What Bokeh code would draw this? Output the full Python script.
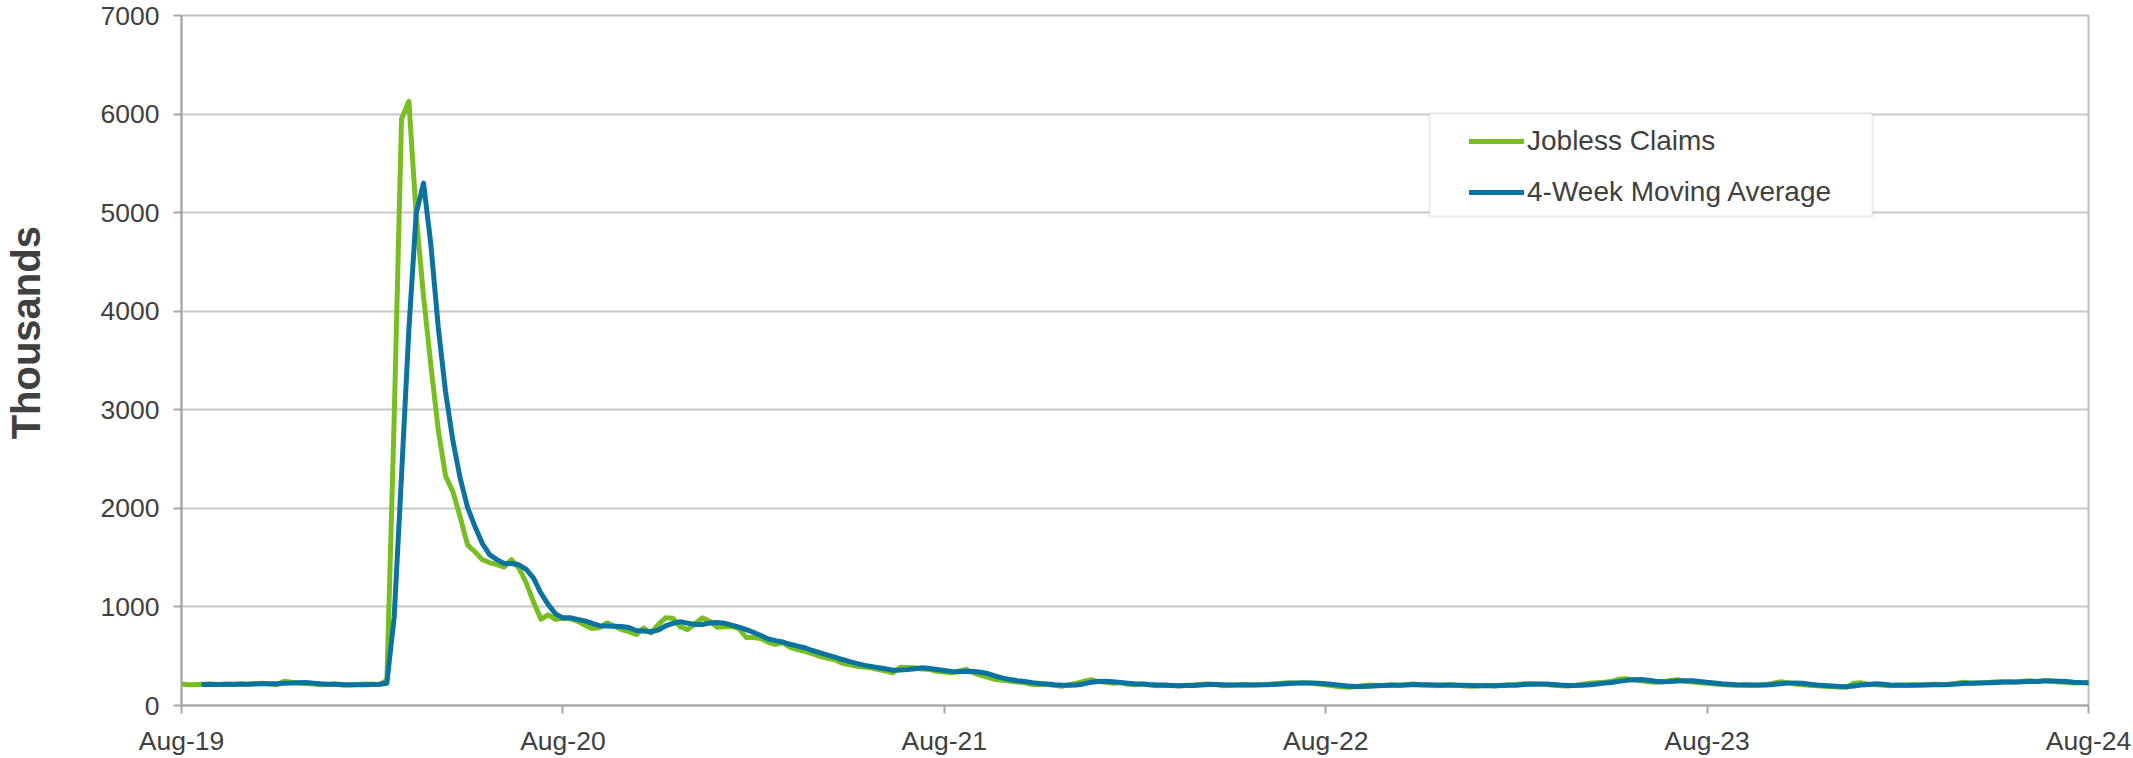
import datetime as dt
from bokeh.plotting import figure
from bokeh.models import (Range1d, FixedTicker, DatetimeTickFormatter, Legend, LegendItem,
                          BoxAnnotation, ColumnDataSource)
from bokeh.embed import file_html
from bokeh.resources import INLINE

# ---------------- data (thousands, weekly, first week ending Aug 31 2019) ----------------
start_week = dt.datetime(2019, 8, 31)

jobless_claims = [
    218, 210, 212, 215, 218, 212, 216, 214, 220, 215,
    224, 226, 218, 210, 245, 235, 228, 222, 218, 210,
    213, 218, 206, 208, 212, 218, 216, 212, 256, 2920,
    5950, 6130, 4970, 4150, 3450, 2800, 2330, 2170, 1910, 1630,
    1560, 1480, 1450, 1430, 1405, 1480, 1395, 1245, 1050, 875,
    920, 875, 885, 880, 855, 815, 780, 790, 838, 805,
    770, 750, 720, 785, 736, 820, 890, 885, 800, 770,
    830, 889, 855, 795, 800, 804, 780, 690, 690, 680,
    640, 620, 635, 590, 568, 550, 525, 500, 480, 466,
    430, 416, 399, 390, 382, 365, 350, 331, 389, 385,
    382, 370, 365, 348, 340, 331, 350, 365, 330, 307,
    285, 264, 255, 247, 238, 230, 213, 213, 213, 205,
    196, 210, 225, 245, 262, 245, 235, 225, 232, 215,
    210, 218, 208, 200, 205, 202, 198, 205, 208, 215,
    218, 212, 200, 205, 210, 212, 208, 210, 214, 220,
    226, 232, 228, 230, 225, 218, 210, 200, 190, 186,
    190, 200, 208, 202, 205, 210, 206, 212, 218, 208,
    205, 200, 208, 212, 205, 198, 195, 200, 205, 198,
    205, 210, 212, 220, 222, 215, 212, 205, 200, 198,
    205, 215, 225, 232, 235, 245, 268, 272, 260, 250,
    242, 235, 240, 255, 262, 245, 238, 230, 225, 218,
    212, 208, 205, 210, 206, 205, 212, 225, 240, 232,
    218, 210, 205, 200, 196, 192, 188, 185, 225, 230,
    215, 210, 205, 200, 208, 205, 210, 206, 212, 215,
    212, 215, 225, 235, 225, 228, 232, 238, 242, 240,
    235, 245, 250, 242, 255, 245, 238, 235, 228, 232,
    230,
]

# 4-week moving average, starting with the 4th week
moving_avg_4wk = [
    214, 214, 214, 215, 215, 216, 216, 218, 221, 221,
    220, 225, 227, 230, 233, 226, 220, 216, 215, 212,
    211, 211, 211, 214, 215, 226, 901, 2335, 3814, 4992,
    5300, 4675, 3843, 3183, 2688, 2303, 2010, 1818, 1645, 1530,
    1480, 1441, 1441, 1428, 1381, 1293, 1141, 1023, 930, 889,
    890, 874, 859, 833, 810, 806, 803, 801, 791, 761,
    756, 748, 765, 808, 833, 849, 836, 821, 822, 836,
    842, 835, 814, 795, 769, 741, 710, 675, 658, 644,
    621, 603, 586, 558, 536, 514, 493, 469, 448, 428,
    409, 397, 384, 372, 357, 359, 364, 372, 382, 376,
    366, 356, 346, 342, 347, 344, 338, 322, 297, 278,
    263, 251, 243, 232, 224, 217, 211, 207, 206, 209,
    219, 236, 244, 247, 242, 234, 227, 221, 219, 213,
    209, 208, 204, 201, 203, 203, 207, 212, 213, 211,
    209, 207, 207, 209, 210, 211, 213, 218, 223, 227,
    229, 229, 225, 221, 213, 205, 197, 192, 192, 196,
    200, 204, 206, 206, 208, 212, 211, 211, 208, 205,
    206, 206, 206, 203, 200, 200, 200, 202, 205, 206,
    212, 216, 217, 217, 214, 208, 204, 202, 205, 211,
    219, 227, 234, 245, 255, 261, 263, 256, 247, 242,
    243, 248, 251, 250, 244, 235, 228, 221, 216, 211,
    209, 207, 207, 208, 212, 221, 227, 229, 225, 216,
    208, 203, 198, 194, 190, 198, 207, 214, 220, 215,
    208, 206, 205, 206, 207, 208, 211, 211, 214, 217,
    222, 225, 228, 230, 231, 235, 238, 239, 241, 243,
    243, 248, 248, 245, 243, 237, 233, 231,
]

series_names = ["Jobless Claims", "4-Week Moving Average"]
x_tick_week_index = [0, 52, 104, 156, 208, 260]   # labelled Aug-19 ... Aug-24
y_ticks = [0, 1000, 2000, 3000, 4000, 5000, 6000, 7000]
y_title = "Thousands"

# ---------------- build ----------------
weeks = [start_week + dt.timedelta(weeks=i) for i in range(len(jobless_claims))]
ma_weeks = weeks[len(jobless_claims) - len(moving_avg_4wk):]
epoch = dt.datetime(1970, 1, 1)
tick_ms = [(weeks[i] - epoch).total_seconds() * 1000.0 for i in x_tick_week_index]

src_claims = ColumnDataSource(dict(x=weeks, y=jobless_claims))
src_ma = ColumnDataSource(dict(x=ma_weeks, y=moving_avg_4wk))

GREEN = "#78BE20"
BLUE = "#0A73A0"
TEXT = "#404040"
FONT = "Liberation Sans"

p = figure(width=2133, height=758, x_axis_type="datetime",
           x_range=Range1d(weeks[0], weeks[-1]), y_range=Range1d(0, 7000),
           output_backend="svg", toolbar_location=None,
           min_border_left=180, min_border_right=45, min_border_top=15, min_border_bottom=51)

p.background_fill_color = "white"
p.border_fill_color = "white"
p.outline_line_color = "#BFBFBF"
p.outline_line_width = 2

p.xgrid.grid_line_color = None
p.ygrid.grid_line_color = "#C8C8C8"
p.ygrid.grid_line_width = 2

# axes
p.xaxis.ticker = FixedTicker(ticks=tick_ms)
fmt = "%b-%y"
p.xaxis.formatter = DatetimeTickFormatter(microseconds=fmt, milliseconds=fmt, seconds=fmt,
                                          minsec=fmt, minutes=fmt, hourmin=fmt, hours=fmt,
                                          days=fmt, months=fmt, years=fmt)
p.yaxis.ticker = FixedTicker(ticks=y_ticks)
for ax in (p.xaxis[0], p.yaxis[0]):
    ax.axis_line_color = "#A6A6A6"
    ax.axis_line_width = 2
    ax.major_tick_line_color = "#A6A6A6"
    ax.major_tick_line_width = 2
    ax.major_tick_out = 8
    ax.major_tick_in = 0
    ax.minor_tick_line_color = None
    ax.major_label_text_font = FONT
    ax.major_label_text_font_size = "26.5px"
    ax.major_label_text_color = TEXT
p.xaxis.major_label_standoff = 12
p.yaxis.major_label_standoff = 14

# y title (leading no-break spaces lift the word above the frame centre, as in the reference)
p.yaxis.axis_label = "\u00a0\u00a0\u00a0\u00a0\u00a0" + y_title
p.yaxis.axis_label_text_font = FONT
p.yaxis.axis_label_text_font_size = "40px"
p.yaxis.axis_label_text_font_style = "bold"
p.yaxis.axis_label_text_color = TEXT
p.yaxis.axis_label_standoff = 50

r_claims = p.line("x", "y", source=src_claims, line_color=GREEN, line_width=5,
                  line_join="round", line_cap="round")
r_ma = p.line("x", "y", source=src_ma, line_color=BLUE, line_width=5,
              line_join="round", line_cap="round")

# legend frame
p.add_layout(BoxAnnotation(left=1248, right=1691, bottom=489, top=592,
                           left_units="screen", right_units="screen",
                           bottom_units="screen", top_units="screen",
                           fill_color="white", fill_alpha=1.0,
                           line_color="#B8B8B8", line_width=2))

legend = Legend(items=[LegendItem(label=series_names[0], renderers=[r_claims]),
                       LegendItem(label=series_names[1], renderers=[r_ma])],
                location=(1288, 496), orientation="vertical",
                padding=0, margin=0, spacing=17,
                glyph_width=55, glyph_height=34, label_height=34, label_standoff=3,
                label_text_font=FONT, label_text_font_size="28px", label_text_color=TEXT,
                border_line_alpha=0, background_fill_alpha=0)
p.add_layout(legend)

open("out.html", "w").write(file_html(p, INLINE))
